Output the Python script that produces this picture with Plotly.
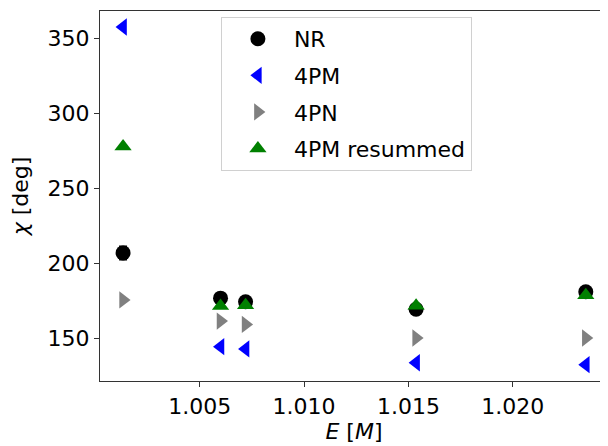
import plotly.graph_objects as go

E = [1.00133, 1.00600, 1.00720, 1.01537, 1.02350]
chi_nr = [206.8, 176.6, 174.2, 169.2, 180.9]
chi_nr_err = [4.5, 2.0, 2.0, 2.5, 2.0]
chi_4pm = [357.6, 144.2, 142.7, 133.5, 132.2]
chi_4pn = [175.4, 161.3, 159.1, 150.0, 150.0]
chi_4pm_res = [277.8, 171.4, 171.8, 171.6, 178.6]

font = dict(family="DejaVu Sans", size=22, color="black")

fig = go.Figure()
fig.add_trace(go.Scatter(x=E, y=chi_nr, mode="markers", name="NR", legendgroup="a",
                         marker=dict(symbol="circle", size=15, color="black"),
                         error_y=dict(type="data", array=chi_nr_err, color="black",
                                      thickness=1.5, width=4)))
fig.add_trace(go.Scatter(x=E, y=chi_4pm, mode="markers", name="4PM", legendgroup="b",
                         marker=dict(symbol="triangle-left", size=15, color="blue")))
fig.add_trace(go.Scatter(x=E, y=chi_4pn, mode="markers", name="4PN", legendgroup="c",
                         marker=dict(symbol="triangle-right", size=15, color="grey")))
fig.add_trace(go.Scatter(x=E, y=chi_4pm_res, mode="markers", name="4PM resummed", legendgroup="d",
                         marker=dict(symbol="triangle-up", size=15, color="green")))

fig.update_layout(
    width=600, height=438,
    margin=dict(l=92, r=0, t=3, b=65),
    paper_bgcolor="white", plot_bgcolor="white",
    font=font,
    showlegend=True,
    legend=dict(x=0.238, y=0.984, xanchor="left", yanchor="top",
                bordercolor="#d0d0d0", borderwidth=1, bgcolor="white",
                font=dict(family="DejaVu Sans", size=22, color="black"),
                itemwidth=62, tracegroupgap=5),
    xaxis=dict(range=[1.000225, 1.024564], tickvals=[1.005, 1.010, 1.015, 1.020],
               ticktext=["1.005", "1.010", "1.015", "1.020"],
               showgrid=False, zeroline=False, showline=True, linecolor="#333",
               linewidth=1.3, mirror=True, ticks="outside", ticklen=5, tickcolor="#333",
               title=dict(text="<i>E</i> [<i>M</i>]", standoff=6, font=font)),
    yaxis=dict(range=[121.3, 368.3], tickvals=[150, 200, 250, 300, 350],
               showgrid=False, zeroline=False, showline=True, linecolor="#333",
               linewidth=1.3, ticks="outside", ticklen=5, tickcolor="#333",
               title=dict(text="<i>χ</i> [deg]", standoff=12, font=font)),
)

fig.write_html("out.html")
